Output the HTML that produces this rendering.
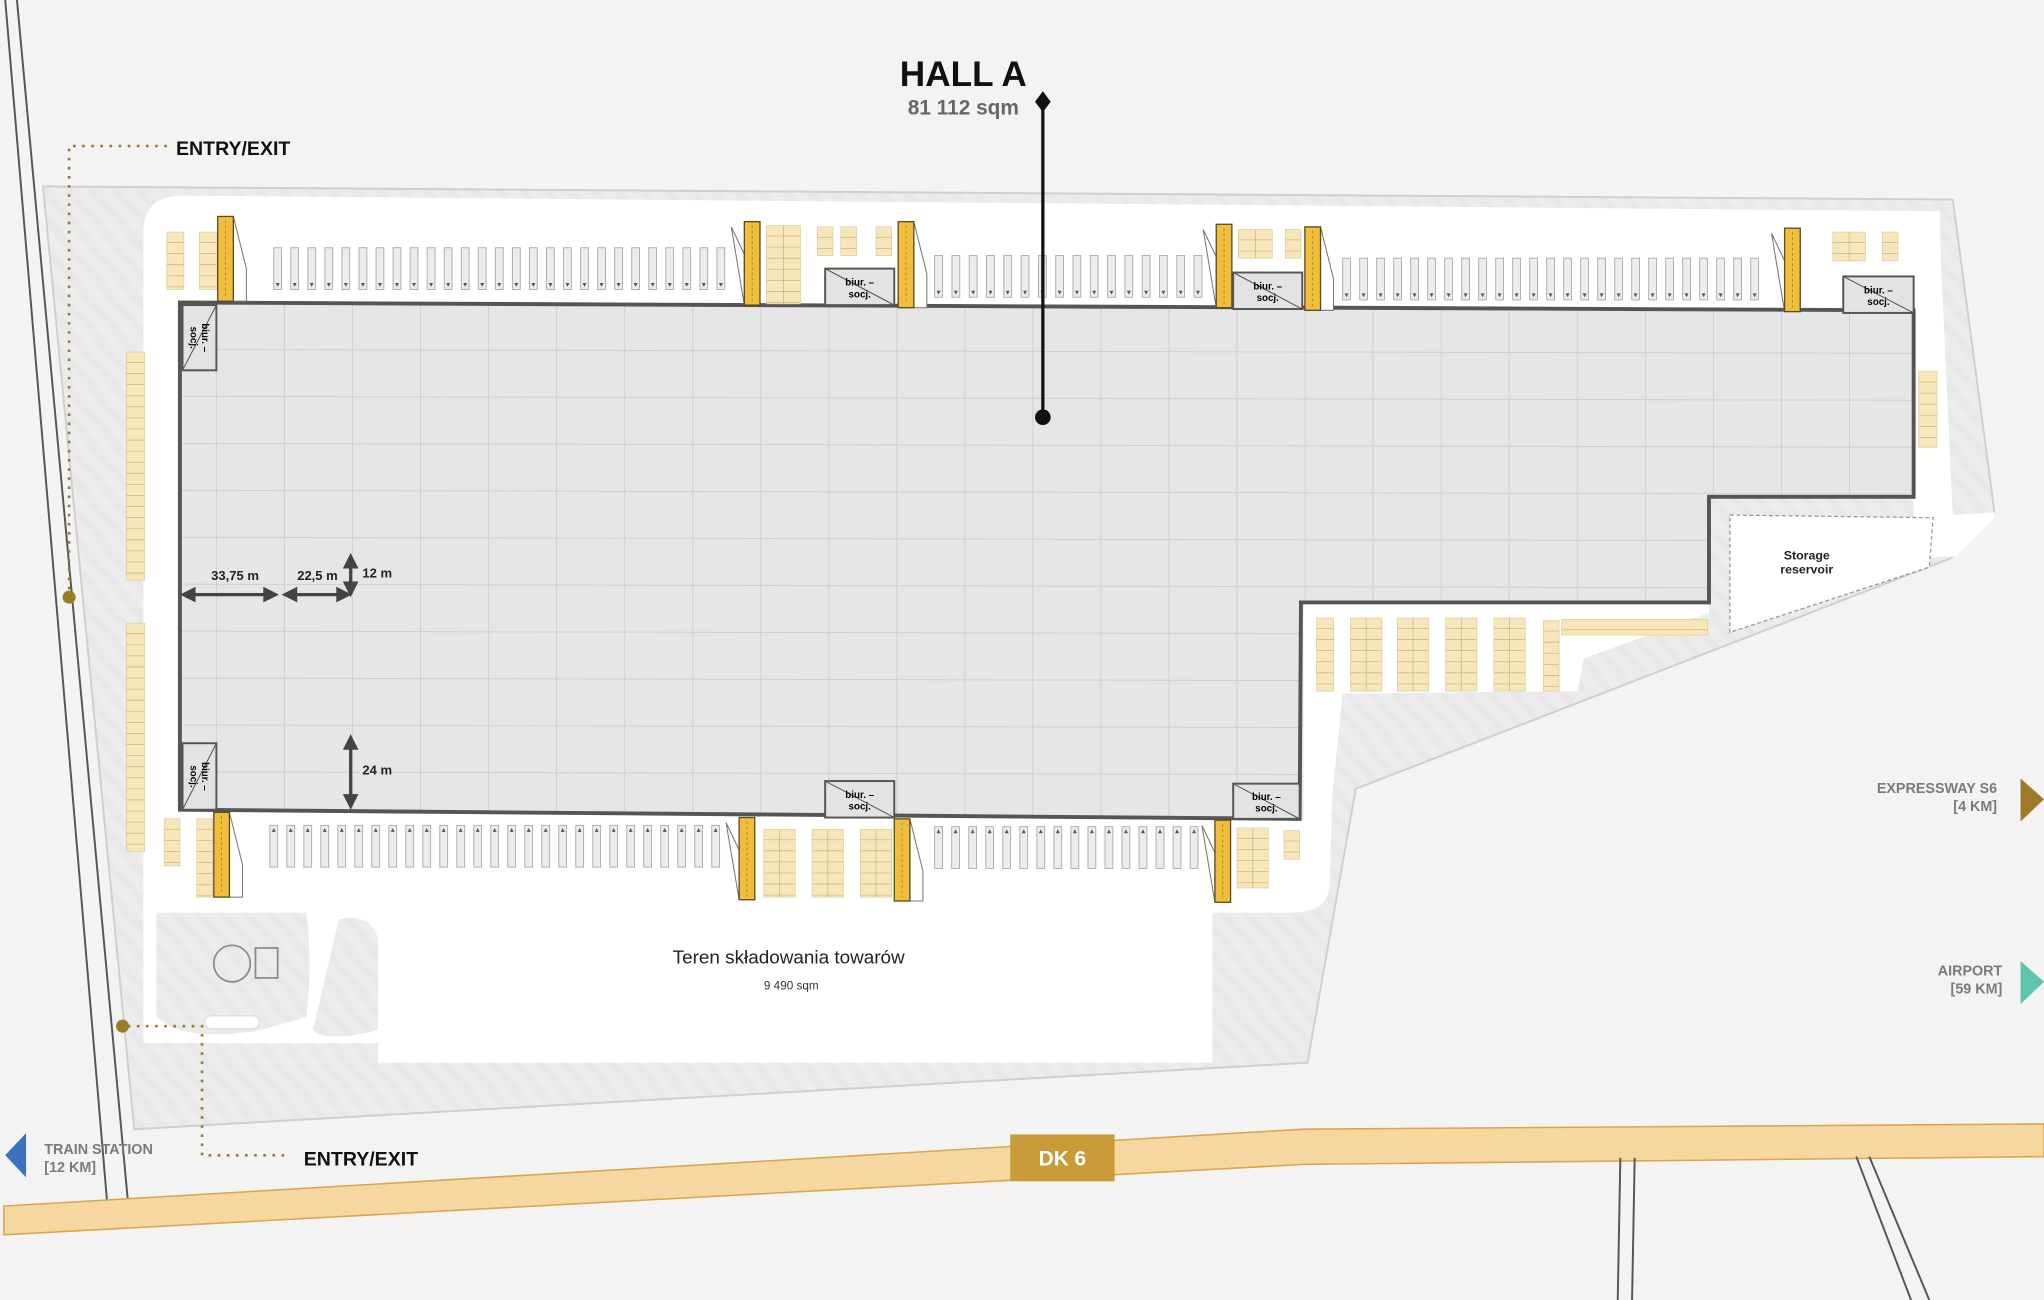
<!DOCTYPE html>
<html><head><meta charset="utf-8"><style>
html,body{margin:0;padding:0;background:#f3f3f3;}
svg{display:block;}
text{font-family:"Liberation Sans",sans-serif;}
</style></head><body>
<svg id="s" width="2044" height="1300" viewBox="0 0 1568 997" preserveAspectRatio="none" xmlns="http://www.w3.org/2000/svg">
<defs>
<pattern id="h" width="14" height="14" patternUnits="userSpaceOnUse" patternTransform="rotate(-40)">
<rect width="14" height="14" fill="#ececec"/><rect width="6" height="14" fill="#e8e8e8"/></pattern>
<clipPath id="hc"><polygon points="138,232 1468,238 1468,381 1311,381 1311,462 998,462 997,628 138,621"/></clipPath>
</defs>
<rect width="1568" height="997" fill="#f3f3f3"/>
<!-- site -->
<polygon points="33,143 1498,153 1530,393 1497,428 1040,605 1003,815 103,866" fill="url(#h)" stroke="#cfcfcf" stroke-width="1.5"/>
<!-- white yard -->
<g fill="#fff">
<path d="M110,175 Q112,150 140,150 L1488,162 L1490,240 L110,240 Z"/>
<rect x="110" y="230" width="30" height="470"/>
<path d="M1468,180 L1488,180 L1498,395 L1530,393 L1530,397 L1500,427 L1468,427 Z"/>
<path d="M110,620 L1000,628 L1000,462 L1311,462 L1311,470 L1215,505 L1210,530 L1030,532 L1022,610 L1020,680 Q1018,700 990,700 L110,700 Z"/>
<rect x="290" y="690" width="640" height="125"/>
<path d="M110,690 L290,690 L290,800 L110,800 Z"/>
</g>
<path d="M120,700 L235,700 Q240,740 235,780 L200,790 Q140,800 120,780 Z" fill="url(#h)"/>
<path d="M260,705 Q285,700 290,720 L290,790 Q250,800 240,790 Z" fill="url(#h)"/>
<path d="M100,800 Q100,870 130,860 L150,855 Q110,810 155,800 Z" fill="url(#h)"/>
<circle cx="178" cy="739" r="14" fill="none" stroke="#888" stroke-width="1.3"/>
<rect x="196" y="727" width="17" height="23" fill="none" stroke="#888" stroke-width="1.3"/>
<rect x="157" y="779" width="42" height="10" rx="5" fill="#fff" stroke="#ddd"/>
<!-- hall -->
<polygon points="138,232 1468,238 1468,381 1311,381 1311,462 998,462 997,628 138,621" fill="#e6e6e6"/>
<g id="grid" clip-path="url(#hc)" stroke="#d0d0d0" stroke-width="0.8"></g>
<polygon points="138,232 1468,238 1468,381 1311,381 1311,462 998,462 997,628 138,621" fill="none" stroke="#555" stroke-width="3"/>
<!-- storage reservoir -->
<polygon points="1327,395 1483,397 1480,435 1327,485" fill="#fff" stroke="#999" stroke-dasharray="3,2"/>
<text x="1386" y="429" font-size="9.5" font-weight="bold" text-anchor="middle" fill="#222">Storage</text>
<text x="1386" y="440" font-size="9.5" font-weight="bold" text-anchor="middle" fill="#222">reservoir</text>
<g id="stalls"></g>
<g id="park"></g>
<g id="docks"></g>
<g id="offices"></g>
<!-- railway -->
<g stroke="#555" stroke-width="1.5" fill="none">
<line x1="4" y1="0" x2="82" y2="920"/><line x1="13" y1="0" x2="98" y2="920"/>
</g>
<!-- road DK6 -->
<polygon points="3,925 1000,866 1568,862 1568,887 1000,893 3,947" fill="#f6d7a0" stroke="#d9a64f" stroke-width="1.2"/>
<g stroke="#555" stroke-width="1.5">
<line x1="1243" y1="888" x2="1241" y2="997"/><line x1="1254" y1="888" x2="1252" y2="997"/>
<line x1="1424" y1="887" x2="1466" y2="997"/><line x1="1434" y1="887" x2="1480" y2="997"/>
</g>
<rect x="775" y="870" width="80" height="36" fill="#c99a38"/>
<text x="815" y="894" font-size="16" font-weight="bold" fill="#fff" text-anchor="middle">DK 6</text>
<!-- dims -->
<g stroke="#444" stroke-width="2.5" fill="#444">
<line x1="142" y1="456" x2="212" y2="456"/><line x1="220" y1="456" x2="266" y2="456"/>
<line x1="269" y1="430" x2="269" y2="452"/><line x1="269" y1="570" x2="269" y2="616"/>
</g>
<g fill="#444">
<polygon points="138,456 150,450 150,462"/><polygon points="214,456 202,450 202,462"/>
<polygon points="216,456 228,450 228,462"/><polygon points="270,456 258,450 258,462"/>
<polygon points="269,424 263,436 275,436"/><polygon points="269,458 263,446 275,446"/>
<polygon points="269,563 263,575 275,575"/><polygon points="269,621 263,609 275,609"/>
</g>
<g font-size="10" font-weight="bold" fill="#222">
<text x="162" y="445">33,75 m</text><text x="228" y="445">22,5 m</text>
<text x="278" y="443">12 m</text><text x="278" y="594">24 m</text>
</g>
<text x="605" y="739" font-size="14.5" text-anchor="middle" fill="#222">Teren składowania towarów</text>
<text x="607" y="759" font-size="9" text-anchor="middle" fill="#333">9 490 sqm</text>
<!-- hall label -->
<text x="739" y="66" font-size="27" font-weight="bold" text-anchor="middle" fill="#111">HALL A</text>
<text x="739" y="88" font-size="16" font-weight="bold" text-anchor="middle" fill="#666">81 112 sqm</text>
<line x1="800" y1="80" x2="800" y2="320" stroke="#111" stroke-width="2.5"/>
<polygon points="800,70 806,78 800,86 794,78" fill="#111"/>
<circle cx="800" cy="320" r="6" fill="#111"/>
<!-- entries -->
<g stroke="#9b7a2c" stroke-width="2" stroke-dasharray="2,5" fill="none">
<polyline points="128,112 53,112 53,456"/>
<polyline points="98,787 155,787 155,886 218,886"/>
</g>
<circle cx="53" cy="458" r="5" fill="#9b7a2c"/>
<circle cx="94" cy="787" r="5" fill="#9b7a2c"/>
<text x="135" y="119" font-size="15" font-weight="bold" fill="#111">ENTRY/EXIT</text>
<text x="233" y="894" font-size="15" font-weight="bold" fill="#111">ENTRY/EXIT</text>
<!-- directions -->
<g font-size="11" font-weight="bold" fill="#7a7a7a">
<text x="1532" y="608" text-anchor="end">EXPRESSWAY S6</text><text x="1532" y="622" text-anchor="end">[4 KM]</text>
<text x="1536" y="748" text-anchor="end">AIRPORT</text><text x="1536" y="762" text-anchor="end">[59 KM]</text>
<text x="34" y="885">TRAIN STATION</text><text x="34" y="899">[12 KM]</text>
</g>
<polygon points="1550,597 1568,613 1550,630" fill="#a0782a"/>
<polygon points="1550,737 1568,753 1550,770" fill="#5fc4ae"/>
<polygon points="20,869 4,886 20,903" fill="#3a72c0"/>
</svg>
<script>
var NS="http://www.w3.org/2000/svg";
function el(p,t,a){var e=document.createElementNS(NS,t);for(var k in a)e.setAttribute(k,a[k]);document.getElementById(p).appendChild(e);return e;}
for(var x=166;x<1468;x+=52.2){el("grid","line",{x1:x,y1:225,x2:x,y2:635});}
for(var y=268;y<630;y+=36){el("grid","line",{x1:130,y1:y,x2:1475,y2:y+3});}
function stalls(x0,x1,y,h,up){var n=Math.round((x1-x0)/13.1);var s=(x1-x0)/n;for(var i=0;i<=n;i++){var x=x0+i*s;el("stalls","rect",{x:x,y:y,width:6,height:h,fill:"#ececec",stroke:"#aaa","stroke-width":0.7});el("stalls","polygon",{points:up?(x+1.5)+","+(y+5)+" "+(x+4.5)+","+(y+5)+" "+(x+3)+","+(y+2):(x+1.5)+","+(y+h-5)+" "+(x+4.5)+","+(y+h-5)+" "+(x+3)+","+(y+h-2),fill:"#555"});}}
stalls(210,550,190,32,0);stalls(717,916,196,32,0);stalls(1030,1343,198,32,0);
stalls(207,546,633,32,1);stalls(717,913,634,32,1);
function park(x,y,w,h,cols){var r=el("park","rect",{x:x,y:y,width:w,height:h,fill:"#f8e6bb",stroke:"#e0cfa0","stroke-width":0.6});for(var yy=y+8;yy<y+h;yy+=8.5)el("park","line",{x1:x,y1:yy,x2:x+w,y2:yy,stroke:"#ccb98a","stroke-width":0.6});if(cols>1)for(var c=1;c<cols;c++)el("park","line",{x1:x+w*c/cols,y1:y,x2:x+w*c/cols,y2:y+h,stroke:"#ccb98a","stroke-width":0.6});}
park(128,178,13,44,1);park(153,178,13,44,1);park(588,173,26,60,2);park(627,174,12,22,1);park(645,174,12,22,1);park(672,174,12,22,1);
park(950,176,26,22,2);park(986,176,12,22,1);park(1406,178,25,22,2);park(1444,178,12,22,1);
park(97,270,14,175,1);park(97,478,14,175,1);park(1472,285,14,58,1);
park(126,628,12,36,1);park(151,628,12,60,1);park(586,636,24,52,2);park(623,636,24,52,2);park(660,636,24,52,2);
park(949,635,24,46,2);park(985,637,12,22,1);
park(1010,474,13,56,1);park(1036,474,24,56,2);park(1072,474,24,56,2);park(1109,474,24,56,2);park(1146,474,24,56,2);park(1184,476,12,54,1);park(1198,475,112,12,1);
function dock(x,y,h,side){el("docks","polygon",{points:side?(x-10)+","+(y+4)+" "+x+","+(y+25)+" "+x+","+(y+h):(x+12)+","+(y+h)+" "+(x+22)+","+(y+h)+" "+(x+22)+","+(y+40)+" "+(x+12)+","+y,fill:"#fff",stroke:"#777","stroke-width":0.8});el("docks","rect",{x:x,y:y,width:12,height:h,fill:"#f1bd3d",stroke:"#5a4a20","stroke-width":1});el("docks","line",{x1:x+6,y1:y+3,x2:x+6,y2:y+h-3,stroke:"#9a7a20","stroke-width":0.6,"stroke-dasharray":"2,2"});}
dock(167,166,65,0);dock(571,170,64,1);dock(689,170,66,0);dock(933,172,64,1);dock(1001,174,64,0);dock(1369,175,64,1);
dock(164,623,65,0);dock(567,627,63,1);dock(686,628,63,0);dock(932,629,63,1);
function off(x,y,w,h,vert){el("offices","rect",{x:x,y:y,width:w,height:h,fill:"#e3e3e3",stroke:"#555","stroke-width":1.5});el("offices","line",{x1:x,y1:vert?y+h:y,x2:x+w,y2:vert?y:y+h,stroke:"#555","stroke-width":0.8});if(vert){var cx=x+w/2,cy=y+h/2;var g=el("offices","g",{transform:"translate("+cx+","+cy+") rotate(90)"});var a=document.createElementNS(NS,"text");a.setAttribute("x",0);a.setAttribute("y",-2);a.setAttribute("font-size",7.5);a.setAttribute("font-weight","bold");a.setAttribute("text-anchor","middle");a.textContent="biur. –";g.appendChild(a);var b=document.createElementNS(NS,"text");b.setAttribute("x",0);b.setAttribute("y",7);b.setAttribute("font-size",7.5);b.setAttribute("font-weight","bold");b.setAttribute("text-anchor","middle");b.textContent="socj.";g.appendChild(b);}else{var a=el("offices","text",{x:x+w/2,y:y+h/2-1,"font-size":7.5,"font-weight":"bold","text-anchor":"middle"});a.textContent="biur. –";var b=el("offices","text",{x:x+w/2,y:y+h/2+8,"font-size":7.5,"font-weight":"bold","text-anchor":"middle"});b.textContent="socj.";}}
off(633,206,53,28);off(946,209,53,28);off(1414,212,54,28);off(140,234,26,50,1);off(140,570,26,51,1);off(633,599,53,28);off(946,601,51,27);
</script>
</body></html>
